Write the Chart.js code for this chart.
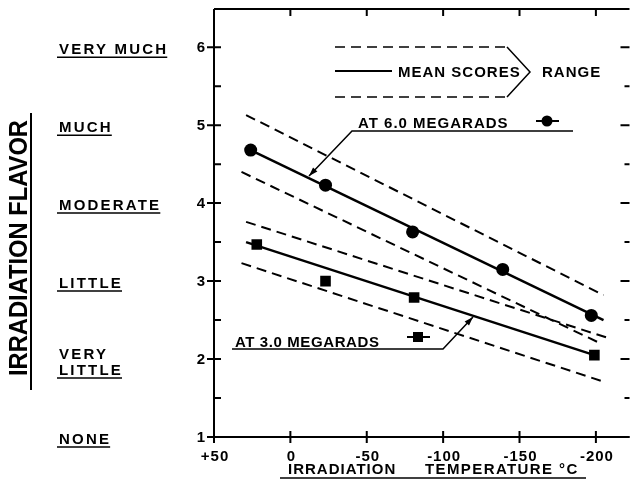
<!DOCTYPE html>
<html>
<head>
<meta charset="utf-8">
<script src="https://cdn.jsdelivr.net/npm/chart.js@4.4.0/dist/chart.umd.min.js"></script>
<style>
  html, body { margin: 0; padding: 0; background: #fff; overflow: hidden; }
  #chart { display: block; }
</style>
</head>
<body>
<canvas id="chart" width="637" height="490"></canvas>
<script>
// Values
const tempTicks = [50, 0, -50, -100, -150, -200];
const tempTickLabels = ['+50', '0', '-50', '-100', '-150', '-200'];
const flavorTicks = [1, 2, 3, 4, 5, 6];
const flavorTickLabels = ['1', '2', '3', '4', '5', '6'];
const flavorNames = [['NONE'], ['VERY', 'LITTLE'], ['LITTLE'], ['MODERATE'], ['MUCH'], ['VERY MUCH']];

// 6.0 megarads (circles)
const temps6 = [26, -23, -80, -139, -197];
const scores6 = [4.68, 4.23, 3.63, 3.15, 2.56];
// 3.0 megarads (squares)
const temps3 = [22, -23, -81, -199];
const scores3 = [3.47, 3.00, 2.79, 2.05];

// mean score lines
const mean6Temps = [26, -205];
const mean6Scores = [4.68, 2.50];
const mean3Temps = [29, -199];
const mean3Scores = [3.50, 2.05];

// range lines
const rangeHigh6Temps = [29, -205];
const rangeHigh6Scores = [5.13, 2.82];
const rangeLow6Temps = [32, -202];
const rangeLow6Scores = [4.40, 2.21];
const rangeHigh3Temps = [29, -208];
const rangeHigh3Scores = [3.76, 2.27];
const rangeLow3Temps = [32, -205];
const rangeLow3Scores = [3.23, 1.71];

const FONT = '"Liberation Sans", Arial, sans-serif';

function toPoints(xs, ys) {
  return xs.map((x, i) => ({ x: x, y: ys[i] }));
}

function lineSet(xs, ys, dashed) {
  return {
    data: toPoints(xs, ys),
    showLine: true,
    borderColor: '#000',
    borderWidth: dashed ? 2 : 2.5,
    borderDash: dashed ? [10, 6] : [],
    pointRadius: 0,
    fill: false
  };
}

function drawTextSpaced(ctx, text, x, y, spacing) {
  ctx.letterSpacing = spacing + 'px';
  ctx.fillText(text, x, y);
  ctx.letterSpacing = '0px';
}

function arrowLine(ctx, pts) {
  ctx.beginPath();
  ctx.moveTo(pts[0][0], pts[0][1]);
  for (let i = 1; i < pts.length; i++) ctx.lineTo(pts[i][0], pts[i][1]);
  ctx.stroke();
  const [x1, y1] = pts[pts.length - 2];
  const [x2, y2] = pts[pts.length - 1];
  const a = Math.atan2(y2 - y1, x2 - x1);
  ctx.beginPath();
  ctx.moveTo(x2, y2);
  ctx.lineTo(x2 - 9 * Math.cos(a) + 3 * Math.sin(a), y2 - 9 * Math.sin(a) - 3 * Math.cos(a));
  ctx.lineTo(x2 - 9 * Math.cos(a) - 3 * Math.sin(a), y2 - 9 * Math.sin(a) + 3 * Math.cos(a));
  ctx.closePath();
  ctx.fill();
}

// Axes, ticks, labels and annotations
const decorations = {
  id: 'decorations',
  afterDraw(chart) {
    const ctx = chart.ctx;
    const area = chart.chartArea;
    const xs = chart.scales.x;
    const ys = chart.scales.y;
    ctx.save();
    ctx.strokeStyle = '#000';
    ctx.fillStyle = '#000';
    ctx.lineWidth = 2;
    ctx.setLineDash([]);

    // frame
    ctx.beginPath();
    ctx.moveTo(area.left, area.top);
    ctx.lineTo(area.right, area.top);
    ctx.moveTo(area.left, area.top);
    ctx.lineTo(area.left, area.bottom);
    ctx.lineTo(area.right, area.bottom);
    ctx.stroke();

    // x ticks (bottom crossing, top inward)
    ctx.font = 'bold 15px ' + FONT;
    ctx.textAlign = 'center';
    ctx.textBaseline = 'middle';
    tempTicks.forEach((t, i) => {
      const px = xs.getPixelForValue(t);
      ctx.beginPath();
      ctx.moveTo(px, area.bottom - 6);
      ctx.lineTo(px, area.bottom + 6);
      if (i > 0) {
        ctx.moveTo(px, area.top);
        ctx.lineTo(px, area.top + 7);
      }
      ctx.stroke();
      drawTextSpaced(ctx, tempTickLabels[i], px + 1, area.bottom + 20, 1);
    });

    // y ticks: major crossing, minor inward, right side inward
    for (let v = 1; v <= 6; v += 0.5) {
      const py = ys.getPixelForValue(v);
      const major = Number.isInteger(v);
      ctx.beginPath();
      ctx.moveTo(area.left - (major ? 7 : 0), py);
      ctx.lineTo(area.left + 7, py);
      ctx.moveTo(area.right - (major ? 9 : 5), py);
      ctx.lineTo(area.right, py);
      ctx.stroke();
    }
    ctx.font = 'bold 15px ' + FONT;
    ctx.textAlign = 'right';
    flavorTicks.forEach((v, i) => {
      const py = ys.getPixelForValue(v);
      ctx.fillText(flavorTickLabels[i], area.left - 9, py + 1);
    });

    // verbal scale names
    ctx.font = 'bold 15px ' + FONT;
    ctx.textAlign = 'left';
    ctx.textBaseline = 'alphabetic';
    ctx.lineWidth = 1.5;
    flavorTicks.forEach((v, i) => {
      const py = ys.getPixelForValue(v);
      const lines = flavorNames[i];
      let widest = 0;
      let lastBase = 0;
      lines.forEach((s, j) => {
        const base = py + 7 + (j - (lines.length - 1) / 2) * 16 + (lines.length > 1 ? 1 : 0);
        drawTextSpaced(ctx, s, 59, base, 2.2);
        ctx.letterSpacing = '2.2px';
        widest = Math.max(widest, ctx.measureText(s).width);
        ctx.letterSpacing = '0px';
        lastBase = base;
      });
      ctx.beginPath();
      ctx.moveTo(57, lastBase + 3);
      ctx.lineTo(58 + widest, lastBase + 3);
      ctx.stroke();
    });

    // y title
    ctx.save();
    ctx.translate(27, 376);
    ctx.rotate(-Math.PI / 2);
    ctx.font = 'bold 26px ' + FONT;
    const title = 'IRRADIATION FLAVOR';
    const tw = ctx.measureText(title).width;
    ctx.scale(256 / tw, 1);
    ctx.fillText(title, 0, 0);
    ctx.restore();
    ctx.lineWidth = 2;
    ctx.beginPath();
    ctx.moveTo(31, 113);
    ctx.lineTo(31, 390);
    ctx.stroke();

    // x title
    ctx.font = 'bold 15px ' + FONT;
    drawTextSpaced(ctx, 'IRRADIATION', 288, 474, 1);
    drawTextSpaced(ctx, 'TEMPERATURE \u00B0C', 425, 474, 1.4);
    ctx.lineWidth = 1.5;
    ctx.beginPath();
    ctx.moveTo(280, 478);
    ctx.lineTo(586, 478);
    ctx.stroke();

    // legend box
    ctx.lineWidth = 1.5;
    ctx.setLineDash([10, 6]);
    ctx.beginPath();
    ctx.moveTo(335, 47);
    ctx.lineTo(507, 47);
    ctx.moveTo(335, 97);
    ctx.lineTo(507, 97);
    ctx.stroke();
    ctx.setLineDash([]);
    ctx.beginPath();
    ctx.moveTo(507, 47);
    ctx.lineTo(530, 72);
    ctx.lineTo(507, 97);
    ctx.stroke();
    ctx.lineWidth = 2;
    ctx.beginPath();
    ctx.moveTo(335, 71);
    ctx.lineTo(392, 71);
    ctx.stroke();
    ctx.font = 'bold 15px ' + FONT;
    drawTextSpaced(ctx, 'MEAN SCORES', 398, 77, 1);
    drawTextSpaced(ctx, 'RANGE', 542, 77, 1);

    // 6.0 megarads label
    drawTextSpaced(ctx, 'AT 6.0 MEGARADS', 358, 128, 1);
    ctx.beginPath();
    ctx.moveTo(536, 121);
    ctx.lineTo(559, 121);
    ctx.stroke();
    ctx.beginPath();
    ctx.arc(547, 121, 5.5, 0, Math.PI * 2);
    ctx.fill();
    ctx.lineWidth = 1.5;
    arrowLine(ctx, [[573, 131], [352, 131], [309, 176]]);

    // 3.0 megarads label
    ctx.font = 'bold 15px ' + FONT;
    drawTextSpaced(ctx, 'AT 3.0 MEGARADS', 235, 347, 0.6);
    ctx.lineWidth = 2;
    ctx.beginPath();
    ctx.moveTo(407, 337);
    ctx.lineTo(430, 337);
    ctx.stroke();
    ctx.fillRect(413, 332, 10, 10);
    ctx.lineWidth = 1.5;
    arrowLine(ctx, [[232, 349], [443, 349], [473, 317]]);

    ctx.restore();
  }
};

new Chart(document.getElementById('chart'), {
  type: 'scatter',
  data: {
    datasets: [
      lineSet(rangeHigh6Temps, rangeHigh6Scores, true),
      lineSet(rangeLow6Temps, rangeLow6Scores, true),
      lineSet(rangeHigh3Temps, rangeHigh3Scores, true),
      lineSet(rangeLow3Temps, rangeLow3Scores, true),
      lineSet(mean6Temps, mean6Scores, false),
      lineSet(mean3Temps, mean3Scores, false),
      {
        data: toPoints(temps6, scores6),
        pointStyle: 'circle',
        pointRadius: 6.5,
        backgroundColor: '#000',
        borderColor: '#000',
        borderWidth: 0
      },
      {
        data: toPoints(temps3, scores3),
        pointStyle: 'rect',
        pointRadius: 7.5,
        backgroundColor: '#000',
        borderColor: '#000',
        borderWidth: 0
      }
    ]
  },
  options: {
    responsive: false,
    animation: false,
    events: [],
    layout: { padding: { left: 214, top: 9, right: 0, bottom: 53 } },
    plugins: {
      legend: { display: false },
      tooltip: { enabled: false },
      title: { display: false }
    },
    scales: {
      x: { type: 'linear', reverse: true, min: -222, max: 50, display: false },
      y: { type: 'linear', min: 1, max: 6.49, display: false }
    }
  },
  plugins: [decorations]
});
</script>
</body>
</html>
